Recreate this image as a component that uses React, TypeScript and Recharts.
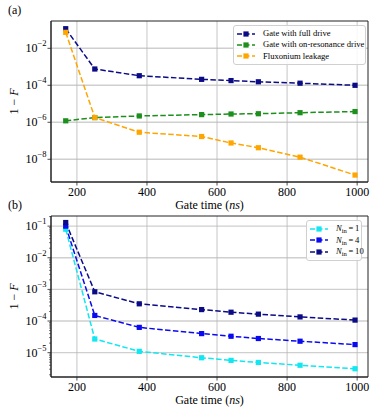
import {
  CartesianGrid,
  Legend,
  Line,
  LineChart,
  ReferenceArea,
  XAxis,
  YAxis,
} from "recharts";

// Gate durations (ns) shared by both panels.
const gateTimes = [168, 251, 378, 556, 640, 718, 837, 994];

// Panel (a)
const fullDrive = [0.115, 7.6e-4, 3.3e-4, 2.1e-4, 1.8e-4, 1.55e-4, 1.3e-4, 1.0e-4];
const onResonance = [1.2e-6, 1.8e-6, 2.2e-6, 2.6e-6, 2.8e-6, 2.9e-6, 3.3e-6, 3.8e-6];
const leakage = [0.073, 1.8e-6, 2.9e-7, 1.7e-7, 7.6e-8, 4.2e-8, 1.3e-8, 1.4e-9];

// Panel (b)
const nin1 = [0.08, 2.7e-5, 1.1e-5, 6.9e-6, 5.7e-6, 4.9e-6, 4.0e-6, 3.1e-6];
const nin4 = [0.1, 1.5e-4, 6.3e-5, 4.0e-5, 3.3e-5, 2.8e-5, 2.3e-5, 1.8e-5];
const nin10 = [0.13, 8.4e-4, 3.5e-4, 2.3e-4, 1.9e-4, 1.65e-4, 1.35e-4, 1.07e-4];

const xTicks = [200, 400, 600, 800, 1000];
const topMajor = [1e-8, 1e-6, 1e-4, 1e-2];
const bottomMajor = [1e-5, 1e-4, 1e-3, 1e-2, 1e-1];

const FONT = "Liberation Serif, DejaVu Serif, serif";
const AXIS = "#222";
const X_DOMAIN: [number, number] = [126, 1031];
const TOP_DOMAIN: [number, number] = [5.9e-10, 0.3];
const BOT_DOMAIN: [number, number] = [1.7e-6, 0.209];

const topData = gateTimes.map((t, i) => ({
  t,
  full: fullDrive[i],
  onres: onResonance[i],
  leak: leakage[i],
}));

const bottomData = gateTimes.map((t, i) => ({
  t,
  n1: nin1[i],
  n4: nin4[i],
  n10: nin10[i],
}));

// minor ticks 2..9 x 10^k inside the bottom panel range
const bottomMinor: number[] = [];
for (let k = -6; k <= -1; k++) {
  for (let m = 2; m <= 9; m++) {
    const v = m * Math.pow(10, k);
    if (v > BOT_DOMAIN[0] && v < BOT_DOMAIN[1]) bottomMinor.push(v);
  }
}

const TICK_SIZE = 3.5;
const TICK_MARGIN = 1;
const txt = { fontFamily: FONT };

function isDecade(v: number) {
  const e = Math.log10(v);
  return Math.abs(e - Math.round(e)) < 1e-6;
}

function LogTick(props: any) {
  const { x, y, payload } = props;
  const v = payload.value as number;
  const ax = x + TICK_SIZE + TICK_MARGIN;
  if (!isDecade(v)) {
    return <line x1={ax} x2={ax - 2} y1={y} y2={y} stroke={AXIS} strokeWidth={0.6} />;
  }
  const exp = Math.round(Math.log10(v));
  return (
    <g>
      <line x1={ax} x2={ax - TICK_SIZE} y1={y} y2={y} stroke={AXIS} strokeWidth={0.8} />
      <text x={x} y={y + 4} textAnchor="end" style={txt} fontSize={12} fill="#000">
        10
        <tspan dy={-6} fontSize={8.5}>
          {"\u2212" + Math.abs(exp)}
        </tspan>
      </text>
    </g>
  );
}

function XTick(props: any) {
  const { x, y, payload } = props;
  return (
    <text x={x} y={y + 8} textAnchor="middle" style={txt} fontSize={12} fill="#000">
      {payload.value}
    </text>
  );
}

function XLabel(props: any) {
  const vb = props.viewBox;
  return (
    <text
      x={vb.x + vb.width / 2}
      y={vb.y + 26.5}
      textAnchor="middle"
      style={txt}
      fontSize={12}
      fill="#000"
    >
      Gate time (<tspan fontStyle="italic">ns</tspan>)
    </text>
  );
}

function YLabel(props: any) {
  const vb = props.viewBox;
  const cy = vb.y + vb.height / 2;
  return (
    <text
      x={14}
      y={cy}
      transform={`rotate(-90, 14, ${cy})`}
      textAnchor="middle"
      dominantBaseline="central"
      style={txt}
      fontSize={12}
      fill="#000"
    >
      1 {"\u2212"} <tspan fontStyle="italic">F</tspan>
    </text>
  );
}

function SquareDot(props: any) {
  const { cx, cy, stroke } = props;
  if (cx == null || cy == null) return null;
  return <rect x={cx - 2.6} y={cy - 2.6} width={5.2} height={5.2} fill={stroke} />;
}

function legendContent(
  labels: Record<string, React.ReactNode>,
  order: string[],
  rowH: number,
  width: number
) {
  return (p: any) => {
    const items = [...(p.payload || [])].sort(
      (a: any, b: any) => order.indexOf(a.dataKey) - order.indexOf(b.dataKey)
    );
    return (
      <div
        style={{
          boxSizing: "border-box",
          width,
          border: "1px solid #d0d0d0",
          borderRadius: 3,
          background: "rgba(255,255,255,0.85)",
          padding: "2px 3px",
          fontFamily: FONT,
          fontSize: 8.6,
          lineHeight: `${rowH}px`,
          color: "#000",
          whiteSpace: "nowrap",
        }}
      >
        {items.map((e: any) => (
          <div key={e.dataKey} style={{ display: "flex", alignItems: "center", height: rowH }}>
            <svg width={20} height={8} style={{ marginRight: 6, flex: "none" }}>
              <line x1={0} x2={18} y1={4} y2={4} stroke={e.color} strokeWidth={1.5} strokeDasharray="5 2.5" />
              <rect x={6.4} y={1.4} width={5.2} height={5.2} fill={e.color} />
            </svg>
            <span>{labels[e.dataKey]}</span>
          </div>
        ))}
      </div>
    );
  };
}

const topLabels = {
  full: "Gate with full drive",
  onres: "Gate with on-resonance drive",
  leak: "Fluxonium leakage",
};

const nin = (n: number) => (
  <span>
    <i>N</i>
    <span style={{ fontSize: 6.5, position: "relative", top: 2 }}>in</span>
    {"\u2009=\u2009" + n}
  </span>
);
const bottomLabels = { n1: nin(1), n4: nin(4), n10: nin(10) };

const topSeries = [
  { key: "full", color: "#0b0b86" },
  { key: "onres", color: "#1c8f1c" },
  { key: "leak", color: "#ffa500" },
];
const bottomSeries = [
  { key: "n1", color: "#12e6f0" },
  { key: "n4", color: "#0a0af0" },
  { key: "n10", color: "#0b0b86" },
];

function Panel(props: {
  data: any[];
  series: { key: string; color: string }[];
  height: number;
  top: number;
  domain: [number, number];
  major: number[];
  yTicks: number[];
  labels: Record<string, React.ReactNode>;
  legendPos: { top: number; left: number; width: number };
  rowH: number;
}) {
  const { data, series, height, top, domain, major, yTicks, labels, legendPos, rowH } = props;
  return (
    <LineChart
      width={374}
      height={height}
      data={data}
      margin={{ top, right: 6, left: 0, bottom: 0 }}
    >
      <CartesianGrid
        vertical={false}
        horizontalValues={major}
        stroke="#cfcfcf"
        strokeWidth={1.4}
      />
      <CartesianGrid horizontal={false} verticalValues={xTicks} stroke="#b8b8b8" strokeWidth={0.8} />
      <XAxis
        dataKey="t"
        type="number"
        domain={X_DOMAIN}
        allowDataOverflow
        ticks={xTicks}
        height={height - top - 161}
        tickSize={TICK_SIZE}
        tickLine={{ stroke: AXIS, strokeWidth: 0.8 }}
        axisLine={{ stroke: AXIS }}
        tick={<XTick />}
        label={{ content: <XLabel /> }}
      />
      <YAxis
        type="number"
        scale="log"
        domain={domain}
        allowDataOverflow
        ticks={yTicks}
        interval={0}
        width={51}
        tickSize={TICK_SIZE}
        tickMargin={TICK_MARGIN}
        tickLine={false}
        axisLine={{ stroke: AXIS }}
        tick={<LogTick />}
        label={{ content: <YLabel /> }}
      />
      <ReferenceArea
        x1={X_DOMAIN[0]}
        x2={X_DOMAIN[1]}
        y1={domain[0]}
        y2={domain[1]}
        fill="none"
        stroke={AXIS}
        strokeWidth={1}
        ifOverflow="visible"
      />
      {series.map((s) => (
        <Line
          key={s.key}
          dataKey={s.key}
          stroke={s.color}
          strokeWidth={1.5}
          strokeDasharray="5.5 2.4"
          dot={<SquareDot />}
          activeDot={false}
          isAnimationActive={false}
        />
      ))}
      <Legend
        layout="vertical"
        align="center"
        verticalAlign="middle"
        wrapperStyle={{ ...legendPos, right: "auto", bottom: "auto", margin: 0 }}
        content={legendContent(labels, series.map((s) => s.key), rowH, legendPos.width)}
      />
    </LineChart>
  );
}

export default function App() {
  return (
    <div
      style={{
        position: "absolute",
        left: 0,
        top: 0,
        width: 374,
        height: 411,
        background: "#fff",
        fontFamily: FONT,
      }}
    >
      <div style={{ position: "absolute", left: 0, top: 0 }}>
        <Panel
          data={topData}
          series={topSeries}
          height={215}
          top={21}
          domain={TOP_DOMAIN}
          major={topMajor}
          yTicks={topMajor}
          labels={topLabels}
          legendPos={{ top: 25, left: 233, width: 133 }}
          rowH={11.3}
        />
      </div>
      <div style={{ position: "absolute", left: 0, top: 205 }}>
        <Panel
          data={bottomData}
          series={bottomSeries}
          height={206}
          top={11}
          domain={BOT_DOMAIN}
          major={bottomMajor}
          yTicks={[...bottomMajor, ...bottomMinor].sort((a, b) => a - b)}
          labels={bottomLabels}
          legendPos={{ top: 15, left: 306, width: 56 }}
          rowH={11.5}
        />
      </div>
      <div style={{ position: "absolute", left: 8, top: 3, fontSize: 12, lineHeight: "14px" }}>(a)</div>
      <div style={{ position: "absolute", left: 8, top: 198, fontSize: 12, lineHeight: "14px" }}>(b)</div>
    </div>
  );
}
